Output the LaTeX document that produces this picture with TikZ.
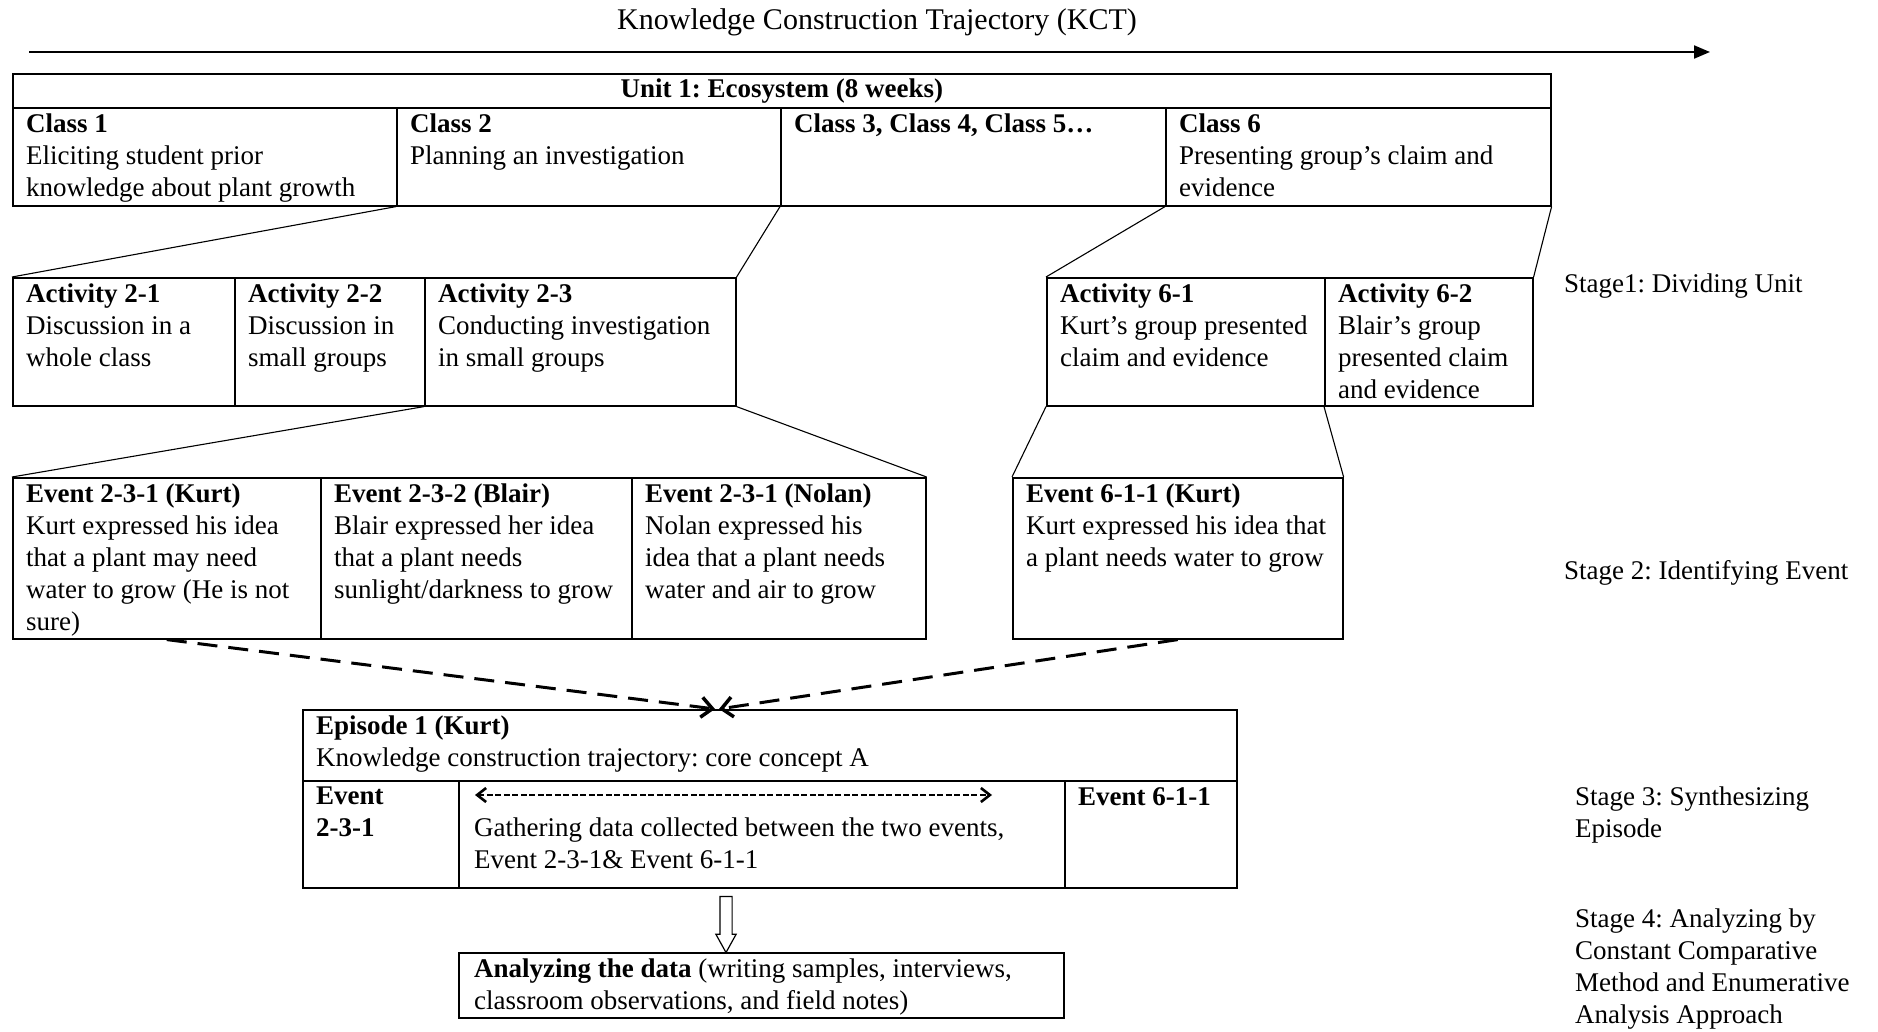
\documentclass[tikz,border=0pt]{standalone}
\usepackage{fontspec}
\setmainfont{Liberation Serif}
\usetikzlibrary{arrows.meta,shapes.arrows}
\newcommand{\bodyfont}{\fontsize{27}{32}\selectfont}
\frenchspacing

\begin{document}
\begin{tikzpicture}[x=1pt, y=-1pt,
    rect/.style 2 args={draw, rectangle, anchor=north west, minimum width=#1, minimum height=#2, inner sep=0pt, line width=1.6pt},
    txt/.style={anchor=north west, align=left, inner sep=0pt, xshift=14pt, yshift=-7pt, font=\bodyfont},
    link/.style={line width=1.1pt},
    merge/.style={line width=3pt, dash pattern=on 20pt off 11pt, -{Straight Barb[length=11pt,width=20pt,line width=3.5pt]}},
    stage/.style={anchor=north west, align=left, inner sep=0pt, font=\bodyfont}]
    \useasboundingbox (0,0) rectangle (1878,1032);

    % Trajectory
    \node[anchor=base, font=\fontsize{30}{34}\selectfont] (kct) at (877,30) {Knowledge Construction Trajectory (KCT)};
    \coordinate (kct-start) at (29,52);
    \coordinate (kct-end) at (1710,52);
    \draw[line width=2pt, -{Triangle[length=16pt,width=13pt]}] (kct-start) -- (kct-end);

    % Unit and classes
    \node[rect={1538}{34}, font=\bodyfont\bfseries] (unit) at (12,73) {Unit 1: Ecosystem (8 weeks)};
    \node[rect={384}{98}] (class1) at (12,107) {};
    \node[rect={384}{98}] (class2) at (396,107) {};
    \node[rect={385}{98}] (class3) at (780,107) {};
    \node[rect={385}{98}] (class6) at (1165,107) {};
    \node[txt] (class1-t) at (class1.north west) {\textbf{Class 1}\\Eliciting student prior\\knowledge about plant growth};
    \node[txt] (class2-t) at (class2.north west) {\textbf{Class 2}\\Planning an investigation};
    \node[txt] (class3-t) at (class3.north west) {\textbf{Class 3, Class 4, Class 5…}};
    \node[txt] (class6-t) at (class6.north west) {\textbf{Class 6}\\Presenting group’s claim and\\evidence};

    % Activities
    \node[rect={222}{128}] (act21) at (12,277) {};
    \node[rect={190}{128}] (act22) at (234,277) {};
    \node[rect={311}{128}] (act23) at (424,277) {};
    \node[rect={278}{128}] (act61) at (1046,277) {};
    \node[rect={208}{128}] (act62) at (1324,277) {};
    \node[txt] (act21-t) at (act21.north west) {\textbf{Activity 2-1}\\Discussion in a\\whole class};
    \node[txt] (act22-t) at (act22.north west) {\textbf{Activity 2-2}\\Discussion in\\small groups};
    \node[txt] (act23-t) at (act23.north west) {\textbf{Activity 2-3}\\Conducting investigation\\in small groups};
    \node[txt] (act61-t) at (act61.north west) {\textbf{Activity 6-1}\\Kurt’s group presented\\claim and evidence};
    \node[txt] (act62-t) at (act62.north west) {\textbf{Activity 6-2}\\Blair’s group\\presented claim\\and evidence};

    \draw[link] (class2.south west) -- (act21.north west);
    \draw[link] (class3.south west) -- (act23.north east);
    \draw[link] (class6.south west) -- (act61.north west);
    \draw[link] (class6.south east) -- (act62.north east);

    % Events
    \node[rect={308}{161}] (ev231) at (12,477) {};
    \node[rect={311}{161}] (ev232) at (320,477) {};
    \node[rect={294}{161}] (ev233) at (631,477) {};
    \node[rect={330}{161}] (ev611) at (1012,477) {};
    \node[txt] (ev231-t) at (ev231.north west) {\textbf{Event 2-3-1 (Kurt)}\\Kurt expressed his idea\\that a plant may need\\water to grow (He is not\\sure)};
    \node[txt] (ev232-t) at (ev232.north west) {\textbf{Event 2-3-2 (Blair)}\\Blair expressed her idea\\that a plant needs\\sunlight/darkness to grow};
    \node[txt] (ev233-t) at (ev233.north west) {\textbf{Event 2-3-1 (Nolan)}\\Nolan expressed his\\idea that a plant needs\\water and air to grow};
    \node[txt] (ev611-t) at (ev611.north west) {\textbf{Event 6-1-1 (Kurt)}\\Kurt expressed his idea that\\a plant needs water to grow};

    \draw[link] (act23.south west) -- (ev231.north west);
    \draw[link] (act23.south east) -- (ev233.north east);
    \draw[link] (act61.south west) -- (ev611.north west);
    \draw[link] (act62.south west) -- (ev611.north east);

    % Episode
    \node[rect={934}{71}] (ep-top) at (302,709) {};
    \node[rect={156}{107}] (ep-left) at (302,780) {};
    \node[rect={606}{107}] (ep-mid) at (458,780) {};
    \node[rect={172}{107}] (ep-right) at (1064,780) {};
    \node[txt] (ep-top-t) at (ep-top.north west) {\textbf{Episode 1 (Kurt)}\\Knowledge construction trajectory: core concept A};
    \node[txt] (ep-left-t) at (ep-left.north west) {\textbf{Event}\\\textbf{2-3-1}};
    \node[txt, yshift=-31pt, xshift=2pt] (ep-mid-t) at (ep-mid.north west) {Gathering data collected between the two events,\\Event 2-3-1\& Event 6-1-1};
    \node[txt] (ep-right-t) at (ep-right.north west) {\textbf{Event 6-1-1}};
    \coordinate (gather-l) at (475,795);
    \coordinate (gather-r) at (992,795);
    \draw[line width=1.1pt, dash pattern=on 6pt off 2.5pt, {Straight Barb[length=9pt,width=14pt,line width=2.6pt]}-{Straight Barb[length=9pt,width=14pt,line width=2.6pt]}] (gather-l) -- (gather-r);

    \coordinate (meet-l) at (715,709);
    \coordinate (meet-r) at (719,709);
    \draw[merge] (ev231.south) -- (meet-l);
    \draw[merge] (ev611.south) -- (meet-r);

    % Analysis
    \node[single arrow, draw, shape border rotate=270, minimum height=56pt, inner sep=5.5pt, single arrow head extend=4pt, single arrow tip angle=58, line width=1.2pt] (down) at (726,919) {};
    \node[rect={605}{65}] (analysis) at (458,952) {};
    \node[txt, xshift=2pt] (analysis-t) at (analysis.north west) {\textbf{Analyzing the data} (writing samples, interviews,\\classroom observations, and field notes)};

    % Stages
    \node[stage] (stage1) at (1564,274) {Stage1: Dividing Unit};
    \node[stage] (stage2) at (1564,560) {Stage 2: Identifying Event};
    \node[stage] (stage3) at (1575,787) {Stage 3: Synthesizing\\Episode};
    \node[stage] (stage4) at (1575,909) {Stage 4: Analyzing by\\Constant Comparative\\Method and Enumerative\\Analysis Approach};

\end{tikzpicture}
\end{document}
